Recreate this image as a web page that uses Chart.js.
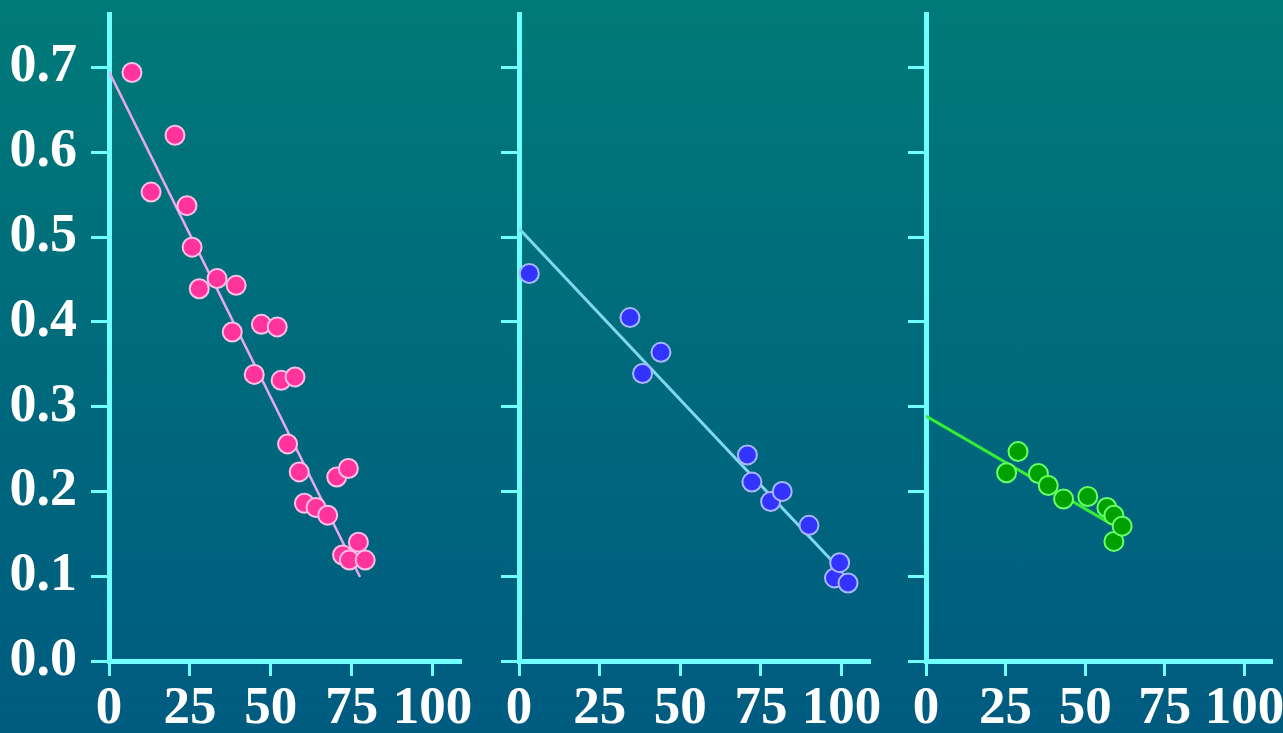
<!DOCTYPE html>
<html>
<head>
<style>
	html, body { margin: 0; padding: 0; }
	body {
		width: 1283px; height: 733px; overflow: hidden; position: relative;
		background: linear-gradient(to bottom, #007a78 0%, #006a7c 50%, #005b80 100%);
	}
	canvas { position: absolute; top: 0; }
</style>
</head>
<body>
	<canvas id="c1" style="left:0px"></canvas>
	<canvas id="c2" style="left:489px"></canvas>
	<canvas id="c3" style="left:896px"></canvas>

	<script src="https://cdn.jsdelivr.net/npm/chart.js"></script>
	<script>

		// tick values
		const xTickValues = [0, 25, 50, 75, 100];
		const yTickValues = [0, 0.1, 0.2, 0.3, 0.4, 0.5, 0.6, 0.7];

		// panel 1 (pink)
		const pinkX = [7.1, 13, 20.4, 24.1, 25.7, 27.9, 33.4, 38.1, 39.3, 44.9, 47.1, 52.0, 53.2, 55.2, 57.5, 58.8, 60.4, 64, 67.6, 70.4, 72.2, 74, 74.3, 77.1, 79.2];
		const pinkY = [0.694, 0.553, 0.620, 0.537, 0.488, 0.439, 0.451, 0.388, 0.443, 0.338, 0.397, 0.394, 0.331, 0.256, 0.335, 0.223, 0.186, 0.181, 0.172, 0.217, 0.125, 0.227, 0.119, 0.140, 0.119];
		const pinkLineX = [0, 77.6];
		const pinkLineY = [0.695, 0.099];

		// panel 2 (blue)
		const blueX = [3.2, 34.4, 38.3, 44, 70.8, 72.2, 78, 81.6, 89.9, 97.8, 99.4, 102];
		const blueY = [0.457, 0.405, 0.339, 0.364, 0.243, 0.211, 0.188, 0.200, 0.160, 0.098, 0.116, 0.092];
		const blueLineX = [0, 97.3];
		const blueLineY = [0.51, 0.117];

		// panel 3 (green)
		const greenX = [25.3, 28.9, 35.3, 38.4, 43.2, 50.8, 56.8, 59, 59, 61.6];
		const greenY = [0.222, 0.247, 0.221, 0.207, 0.191, 0.194, 0.181, 0.172, 0.141, 0.159];
		const greenLineX = [0, 58];
		const greenLineY = [0.289, 0.162];

		const axisColor = '#70ffff';
		const xMax = 108.5;
		const yMax = 0.763;
		const labelFont = '"Liberation Serif", "Times New Roman", serif';

		function pts(xs, ys) {
			return xs.map((x, i) => ({x: x, y: ys[i]}));
		}

		function makePanel(id, width, yWidth, padRight, showYLabels, s) {
			const el = document.getElementById(id);
			el.width = width;
			el.height = 733;
			el.style.width = width + 'px';
			el.style.height = '733px';

			return new Chart(el, {
				type: 'scatter',
				data: {
					datasets: [
						{
							data: pts(s.x, s.y),
							backgroundColor: s.fill,
							borderColor: s.edge,
							borderWidth: 2,
							pointRadius: 9.5,
							pointHoverRadius: 9.5,
							order: 1,
						},
						{
							data: pts(s.lx, s.ly),
							showLine: true,
							borderColor: s.line,
							borderWidth: s.lineWidth,
							pointRadius: 0,
							order: 2,
						},
					]
				},
				options: {
					responsive: false,
					animation: false,
					layout: { padding: { top: 14, right: padRight, left: 0, bottom: 0 } },
					plugins: { legend: { display: false }, tooltip: { enabled: false } },
					scales: {
						x: {
							type: 'linear',
							min: 0,
							max: xMax,
							afterBuildTicks: (sc) => { sc.ticks = xTickValues.map(v => ({value: v})); },
							afterFit: (sc) => { sc.height = 72; sc.paddingLeft = 0; sc.paddingRight = 0; },
							border: { color: axisColor, width: 5 },
							grid: { drawOnChartArea: false, tickLength: 15, tickWidth: 3, tickColor: axisColor, color: axisColor, lineWidth: 3 },
							ticks: {
								autoSkip: false,
								maxRotation: 0,
								color: '#ffffff',
								padding: 2,
								font: { family: labelFont, weight: 'bold', size: 53 },
								callback: (v) => String(v),
							},
						},
						y: {
							type: 'linear',
							min: 0,
							max: yMax,
							afterBuildTicks: (sc) => { sc.ticks = yTickValues.map(v => ({value: v})); },
							afterFit: (sc) => { sc.width = yWidth; sc.paddingTop = 0; sc.paddingBottom = 0; },
							border: { color: axisColor, width: 5 },
							grid: { drawOnChartArea: false, tickLength: 18, tickWidth: 3, tickColor: axisColor, color: axisColor, lineWidth: 3 },
							ticks: {
								display: showYLabels,
								color: '#ffffff',
								padding: 14,
								font: { family: labelFont, weight: 'bold', size: 54 },
								callback: (v) => Number(v).toFixed(1),
							},
						},
					},
				},
			});
		}

		makePanel('c1', 489, 109, 29, true, {
			x: pinkX, y: pinkY, lx: pinkLineX, ly: pinkLineY,
			fill: '#ff339c', edge: '#ffc0e8', line: '#e8a8f0', lineWidth: 2.5,
		});

		makePanel('c2', 401, 30, 21, false, {
			x: blueX, y: blueY, lx: blueLineX, ly: blueLineY,
			fill: '#3333ff', edge: '#a8b8ff', line: '#80d8f0', lineWidth: 3,
		});

		makePanel('c3', 387, 30, 6, false, {
			x: greenX, y: greenY, lx: greenLineX, ly: greenLineY,
			fill: '#00a000', edge: '#66ff66', line: '#33ee33', lineWidth: 3,
		});

	</script>
</body>
</html>
